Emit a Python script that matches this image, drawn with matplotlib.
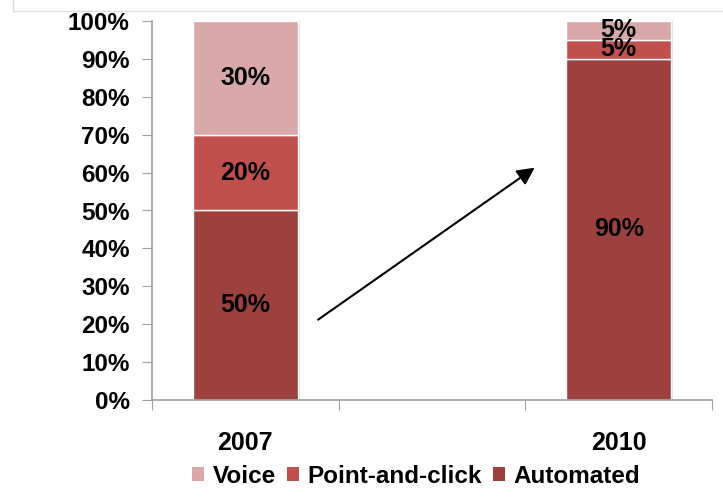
import matplotlib
matplotlib.use("Agg")
import matplotlib.pyplot as plt
from matplotlib.lines import Line2D
from matplotlib.patches import Patch

# Data
categories = ["2007", "", "2010"]
automated = [50, None, 90]
point_and_click = [20, None, 5]
voice = [30, None, 5]
series_names = ["Voice", "Point-and-click", "Automated"]
ytick_labels = [f"{v}%" for v in range(0, 101, 10)]

colors = {"Automated": "#9C413E", "Point-and-click": "#C0504D", "Voice": "#D9A8A8"}

plt.rcParams["font.family"] = ["Liberation Sans", "DejaVu Sans"]
plt.rcParams["font.weight"] = "bold"

fig = plt.figure(figsize=(7.23, 4.98), dpi=100)
ax = fig.add_axes([152 / 723, 1 - 400 / 498, 560 / 723, 379 / 498])

x_pos = [i + 0.5 for i in range(len(categories))]
width = 0.56
bottoms = [0] * len(categories)
stack = [("Automated", automated), ("Point-and-click", point_and_click), ("Voice", voice)]

# soft shadow to the right of each bar
totals = [sum(v for v in col if v is not None) if any(v is not None for v in col) else None
          for col in zip(automated, point_and_click, voice)]
for i, t in enumerate(totals):
    if t:
        ax.bar(x_pos[i] + 0.012, t, width=width, color="#C8C8C8", alpha=0.6,
               linewidth=0, zorder=1)

for name, vals in stack:
    for i, v in enumerate(vals):
        if v is None:
            continue
        ax.bar(x_pos[i], v, width=width, bottom=bottoms[i], color=colors[name],
               edgecolor="white", linewidth=1.0, zorder=2)
        ax.text(x_pos[i], bottoms[i] + v / 2, f"{v}%", ha="center", va="center",
                fontsize=18, fontweight="bold", color="black", zorder=3)
        bottoms[i] += v

ax.set_xlim(0, len(categories))
ax.set_ylim(0, 100)
ax.set_yticks(range(0, 101, 10))
ax.set_yticklabels(ytick_labels, fontsize=17.5, fontweight="bold")
ax.set_xticks(range(0, len(categories) + 1))
ax.set_xticklabels([])
ax.set_xticks(x_pos, minor=True)
ax.set_xticklabels(["2007", "", "2010"], minor=True, fontsize=18, fontweight="bold")
ax.tick_params(axis="x", which="minor", length=0, pad=22)
ax.tick_params(axis="x", which="major", length=7, color="#A0A0A0", direction="out")
ax.tick_params(axis="y", length=7, color="#A0A0A0", direction="out", pad=9)

for side in ("top", "right"):
    ax.spines[side].set_visible(False)
for side in ("left", "bottom"):
    ax.spines[side].set_color("#A0A0A0")
    ax.spines[side].set_linewidth(1.2)

# Trend arrow across the empty middle slot
ax.annotate("", xy=(2.05, 61.3), xytext=(0.89, 21.2),
            arrowprops=dict(arrowstyle="-|>", color="black", lw=1.5,
                            mutation_scale=26, shrinkA=0, shrinkB=0), zorder=4)

handles = [Patch(facecolor=colors[n], edgecolor="none") for n in series_names]
fig.legend(handles, series_names, loc="center", bbox_to_anchor=(416 / 723, 1 - 476 / 498),
           ncol=3, frameon=False, handlelength=0.5, handleheight=0.5,
           handletextpad=0.35, columnspacing=0.45, prop={"weight": "bold", "size": 17.5})

# Thin frame fragment in the top-left corner
fig.add_artist(Line2D([13 / 723, 13 / 723], [1, 1 - 11 / 498], color="#DDDDDD", lw=1))
fig.add_artist(Line2D([13 / 723, 1], [1 - 11 / 498, 1 - 11 / 498], color="#DDDDDD", lw=1))

fig.savefig("out.png", dpi=100)
